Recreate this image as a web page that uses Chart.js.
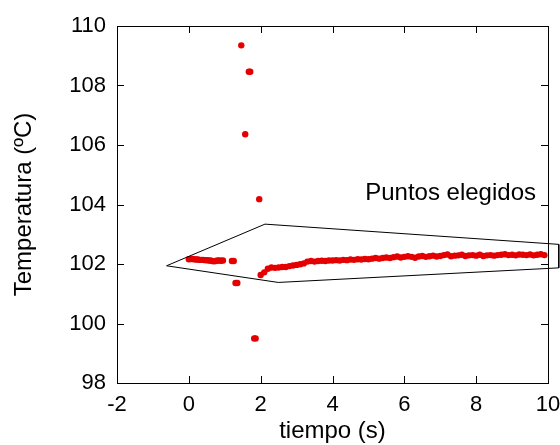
<!DOCTYPE html>
<html>
<head>
<meta charset="utf-8">
<script src="https://cdn.jsdelivr.net/npm/chart.js@4.4.1/dist/chart.umd.min.js"></script>
<style>
  html, body { margin: 0; padding: 0; background: #fff; }
  #wrap { width: 560px; height: 445px; }
</style>
</head>
<body>
<div id="wrap"><canvas id="chart" width="560" height="445"></canvas></div>
<script>
// --- data ---
const xTicks = [-2, 0, 2, 4, 6, 8, 10];
const yTicks = [98, 100, 102, 104, 106, 108, 110];

// first plateau before the disturbance
const t1 = [0.0, 0.05, 0.1, 0.15, 0.2, 0.25, 0.3, 0.35, 0.4, 0.45, 0.5, 0.55, 0.6, 0.65, 0.7, 0.75, 0.8, 0.85, 0.9, 0.95, 1.2, 1.25];
const temp1 = [102.16, 102.17, 102.17, 102.16, 102.15, 102.15, 102.14, 102.14, 102.14, 102.13, 102.13, 102.12, 102.12, 102.10, 102.09, 102.10, 102.12, 102.12, 102.11, 102.12, 102.10, 102.10];

// scattered readings during the jump
const tOut = [1.30, 1.35, 1.46, 1.57, 1.67, 1.71, 1.82, 1.86, 1.96];
const tempOut = [101.36, 101.36, 109.35, 106.36, 108.46, 108.46, 99.50, 99.50, 104.18];

// second series, after the disturbance
const t2 = [2.0, 2.1, 2.2, 2.3, 2.4, 2.5, 2.6, 2.7, 2.8, 2.9,
            3.0, 3.1, 3.2, 3.3, 3.4, 3.5, 3.6, 3.7, 3.8, 3.9,
            4.0, 4.1, 4.2, 4.3, 4.4, 4.5, 4.6, 4.7, 4.8, 4.9,
            5.0, 5.1, 5.2, 5.3, 5.4, 5.5, 5.6, 5.7, 5.8, 5.9,
            6.0, 6.1, 6.2, 6.3, 6.4, 6.5, 6.6, 6.7, 6.8, 6.9,
            7.0, 7.1, 7.2, 7.3, 7.4, 7.5, 7.6, 7.7, 7.8, 7.9,
            8.0, 8.1, 8.2, 8.3, 8.4, 8.5, 8.6, 8.7, 8.8, 8.9,
            9.0, 9.1, 9.2, 9.3, 9.4, 9.5, 9.6, 9.7, 9.8, 9.9];
const temp2 = [101.63, 101.72, 101.84, 101.88, 101.87, 101.88, 101.90, 101.90, 101.93, 101.95,
               101.97, 101.99, 102.02, 102.08, 102.10, 102.08, 102.10, 102.11, 102.10, 102.12,
               102.12, 102.13, 102.12, 102.14, 102.13, 102.15, 102.14, 102.16, 102.15, 102.17,
               102.16, 102.18, 102.20, 102.18, 102.20, 102.22, 102.20, 102.23, 102.25, 102.22,
               102.24, 102.26, 102.24, 102.21, 102.25, 102.27, 102.24, 102.26, 102.28, 102.25,
               102.27, 102.30, 102.32, 102.26, 102.28, 102.29, 102.31, 102.27, 102.29, 102.30,
               102.28, 102.31, 102.27, 102.29, 102.30, 102.28, 102.30, 102.31, 102.33, 102.30,
               102.31, 102.29, 102.32, 102.31, 102.30, 102.32, 102.29, 102.31, 102.33, 102.30];

// hand-drawn outline around the chosen points
const boxX = [-0.62, 2.12, 10.30, 10.30, 2.49, -0.62];
const boxY = [101.94, 103.34, 102.66, 101.87, 101.38, 101.94];

const noteText = "Puntos elegidos";
const noteX = 4.91;
const noteY = 104.15;

// --- build datasets ---
const pts = (xs, ys) => xs.map((x, i) => ({ x: x, y: ys[i] }));
const red = "rgb(228,0,0)";
const font = "Liberation Sans, Arial, sans-serif";

const frame = {
  id: "frame",
  beforeDatasetsDraw(chart) {
    const { ctx, chartArea: a, scales } = chart;
    const len = 7;
    ctx.save();
    ctx.strokeStyle = "#000";
    ctx.lineWidth = 1;
    ctx.strokeRect(a.left + 0.5, a.top + 0.5, a.right - a.left, a.bottom - a.top);
    ctx.beginPath();
    xTicks.forEach((v) => {
      const px = Math.round(scales.x.getPixelForValue(v)) + 0.5;
      ctx.moveTo(px, a.bottom); ctx.lineTo(px, a.bottom - len);
      ctx.moveTo(px, a.top); ctx.lineTo(px, a.top + len);
    });
    yTicks.forEach((v) => {
      const py = Math.round(scales.y.getPixelForValue(v)) + 0.5;
      ctx.moveTo(a.left, py); ctx.lineTo(a.left + len, py);
      ctx.moveTo(a.right, py); ctx.lineTo(a.right - len, py);
    });
    ctx.stroke();
    ctx.restore();
  },
  afterDatasetsDraw(chart) {
    const { ctx, scales } = chart;
    ctx.save();
    ctx.fillStyle = "#000";
    ctx.font = "24px " + font;
    ctx.textBaseline = "alphabetic";
    ctx.fillText(noteText, scales.x.getPixelForValue(noteX), scales.y.getPixelForValue(noteY));
    ctx.restore();
  },
};

new Chart(document.getElementById("chart"), {
  type: "scatter",
  data: {
    datasets: [
      {
        data: pts(boxX, boxY),
        showLine: true,
        borderColor: "#000",
        borderWidth: 1,
        pointRadius: 0,
        fill: false,
        clip: false,
      },
      { data: pts(t1, temp1), backgroundColor: red, borderWidth: 0, pointRadius: 3.2 },
      { data: pts(tOut, tempOut), backgroundColor: red, borderWidth: 0, pointRadius: 3.2 },
      { data: pts(t2, temp2), backgroundColor: red, borderWidth: 0, pointRadius: 3.2 },
    ],
  },
  options: {
    responsive: false,
    animation: false,
    layout: { padding: { top: 26, right: 12, left: 0, bottom: 0 } },
    plugins: { legend: { display: false }, tooltip: { enabled: false } },
    scales: {
      x: {
        type: "linear",
        min: -2,
        max: 10,
        afterBuildTicks: (s) => { s.ticks = xTicks.map((v) => ({ value: v })); },
        afterFit: (s) => { s.height = 62; s.paddingLeft = 0; s.paddingRight = 0; },
        grid: { display: false, drawTicks: false },
        border: { display: false },
        ticks: { color: "#000", padding: 9, maxRotation: 0, font: { family: font, size: 22 } },
        title: {
          display: true,
          text: "tiempo (s)",
          color: "#000",
          padding: { top: 0, bottom: -1 },
          font: { family: font, size: 24 },
        },
      },
      y: {
        type: "linear",
        min: 98,
        max: 110,
        afterBuildTicks: (s) => { s.ticks = yTicks.map((v) => ({ value: v })); },
        afterFit: (s) => { s.width = 117; },
        grid: { display: false, drawTicks: false },
        border: { display: false },
        ticks: { color: "#000", padding: 11, font: { family: font, size: 22 } },
        title: {
          display: true,
          text: "Temperatura (ºC)",
          color: "#000",
          padding: { top: 10, bottom: 0 },
          font: { family: font, size: 24 },
        },
      },
    },
  },
  plugins: [frame],
});
</script>
</body>
</html>
